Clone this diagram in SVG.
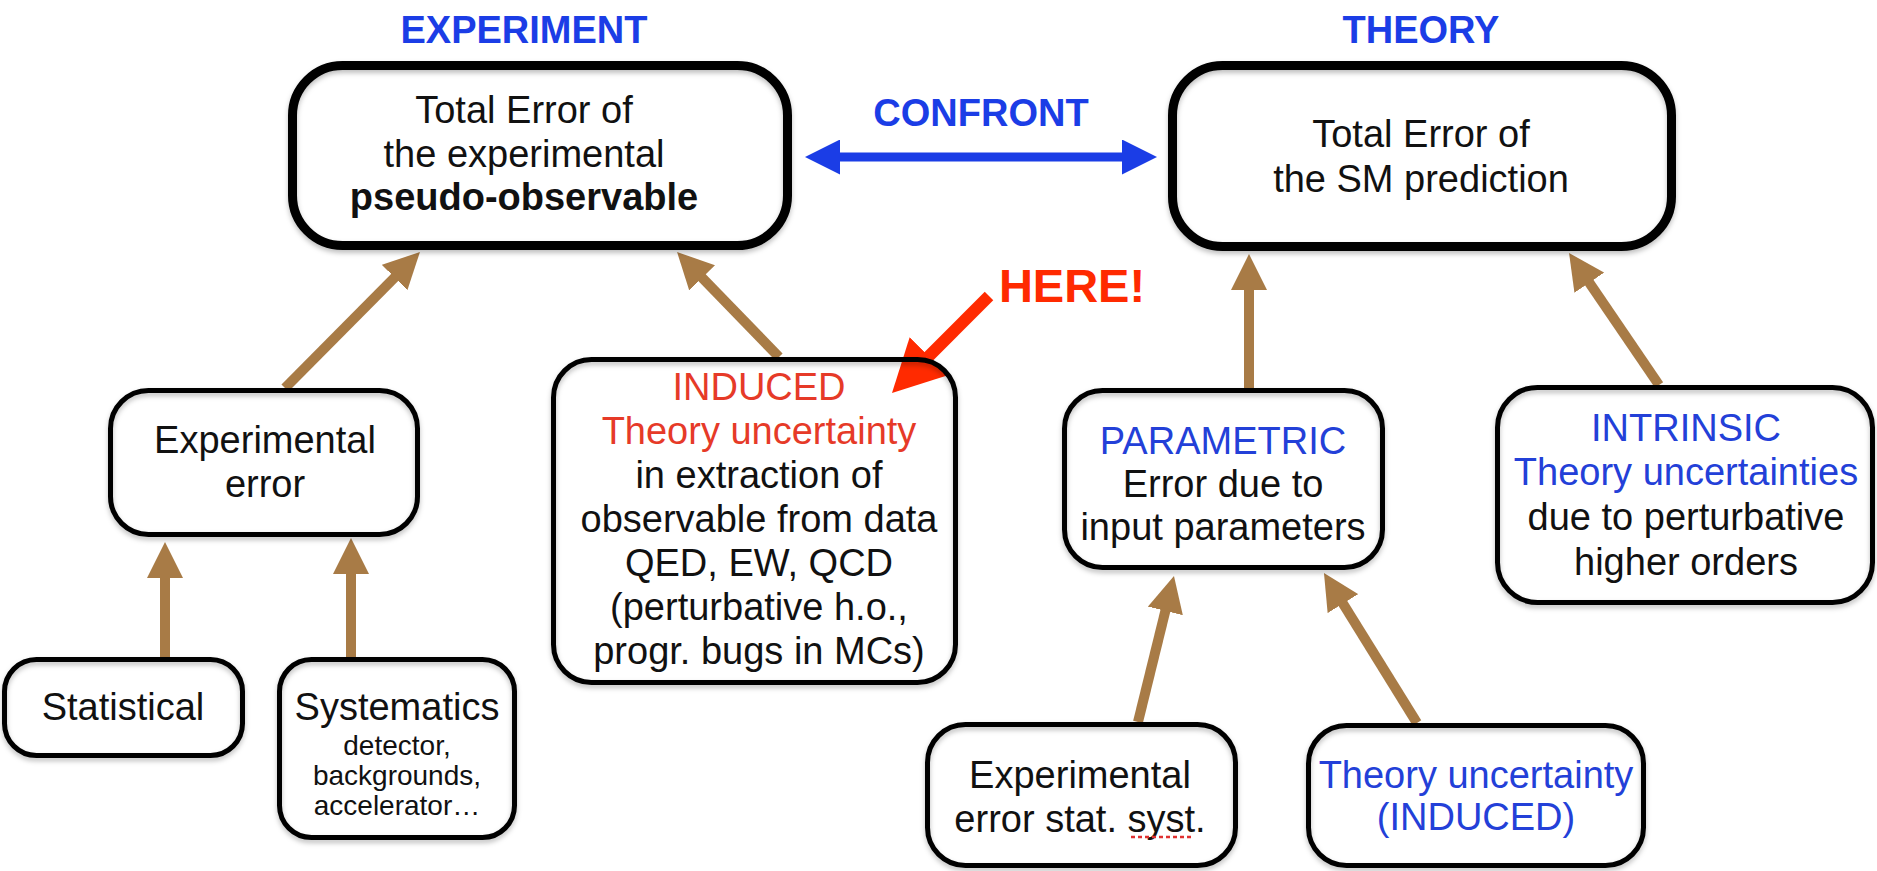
<svg xmlns="http://www.w3.org/2000/svg" width="1877" height="871" viewBox="0 0 1877 871">
<style>
text{font-family:"Liberation Sans",Arial,sans-serif;font-size:38px;fill:#111;text-anchor:middle}
.title{font-weight:bold;fill:#1b3de6}
.blue{fill:#2340d8}
.red{fill:#e63a28}
.b{font-weight:bold}
.sm{font-size:28px}
.big{fill:none;stroke:#000;stroke-width:9}
.box{fill:none;stroke:#000;stroke-width:5}
.arr{fill:none;stroke:#a87b46;stroke-width:10;marker-end:url(#bh)}
</style>
<defs>
<filter id="sh" x="-10%" y="-10%" width="120%" height="130%"><feDropShadow dx="0" dy="3" stdDeviation="2.5" flood-color="#000" flood-opacity="0.25"/></filter>
<marker id="bh" markerUnits="userSpaceOnUse" viewBox="0 0 36 36" markerWidth="36" markerHeight="36" refX="24" refY="18" orient="auto"><path d="M0,0L36,18L0,36z" fill="#a87b46"/></marker>
<marker id="uh" markerUnits="userSpaceOnUse" viewBox="0 0 35 35" markerWidth="35" markerHeight="35" refX="23" refY="17.5" orient="auto-start-reverse"><path d="M0,0L35,17.5L0,35z" fill="#1b3de6"/></marker>
<marker id="rh" markerUnits="userSpaceOnUse" viewBox="0 0 52 54" markerWidth="52" markerHeight="54" refX="37" refY="27" orient="auto"><path d="M0,0L52,27L0,54z" fill="#ff2a00"/></marker>
</defs>

<text class="title" x="524" y="43">EXPERIMENT</text>
<text class="title" x="1421" y="43">THEORY</text>
<text class="title" x="981" y="126">CONFRONT</text>
<text class="b" x="1072" y="302" style="font-size:47px;fill:#ff2a00">HERE!</text>

<g id="connectors">
<line x1="817" y1="157" x2="1145" y2="157" stroke="#1b3de6" stroke-width="9" marker-start="url(#uh)" marker-end="url(#uh)"/>
<line x1="989" y1="296" x2="902.6" y2="382.4" stroke="#ff2a00" stroke-width="12" marker-end="url(#rh)"/>
<line class="arr" x1="285" y1="388" x2="411.5" y2="260.5"/>
<line class="arr" x1="779" y1="357" x2="685.4" y2="260.6"/>
<line class="arr" x1="165" y1="657" x2="165" y2="554"/>
<line class="arr" x1="351" y1="657" x2="351" y2="550"/>
<line class="arr" x1="1249" y1="388" x2="1249" y2="266"/>
<line class="arr" x1="1659" y1="385" x2="1575.8" y2="262.9"/>
<line class="arr" x1="1138" y1="722" x2="1171.1" y2="587.6"/>
<line class="arr" x1="1417" y1="723" x2="1330.3" y2="583.2"/>
</g>

<g id="exp-total">
<rect class="big" x="292.5" y="65.5" width="495" height="180" rx="50" filter="url(#sh)"/>
<text x="524" y="123">Total Error of</text>
<text x="524" y="167">the experimental</text>
<text class="b" x="524" y="210">pseudo-observable</text>
</g>

<g id="sm-total">
<rect class="big" x="1172.5" y="65.5" width="499" height="181" rx="50" filter="url(#sh)"/>
<text x="1421" y="147">Total Error of</text>
<text x="1421" y="192">the SM prediction</text>
</g>

<g id="exp-error">
<rect class="box" x="110.5" y="390.5" width="307" height="144" rx="38" filter="url(#sh)"/>
<text x="265" y="453">Experimental</text>
<text x="265" y="497">error</text>
</g>

<g id="statistical">
<rect class="box" x="4.5" y="659.5" width="238" height="96" rx="32" filter="url(#sh)"/>
<text x="123" y="720">Statistical</text>
</g>

<g id="systematics">
<rect class="box" x="279.5" y="659.5" width="235" height="178" rx="32" filter="url(#sh)"/>
<text x="397" y="720">Systematics</text>
<text class="sm" x="397" y="755">detector,</text>
<text class="sm" x="397" y="785">backgrounds,</text>
<text class="sm" x="397" y="815">accelerator…</text>
</g>

<g id="induced">
<rect class="box" x="553.5" y="359.5" width="402" height="323" rx="38" filter="url(#sh)"/>
<text class="red" x="759" y="400">INDUCED</text>
<text class="red" x="759" y="444">Theory uncertainty</text>
<text x="759" y="488">in extraction of</text>
<text x="759" y="532">observable from data</text>
<text x="759" y="576">QED, EW, QCD</text>
<text x="759" y="620">(perturbative h.o.,</text>
<text x="759" y="664">progr. bugs in MCs)</text>
</g>

<g id="parametric">
<rect class="box" x="1064.5" y="390.5" width="318" height="177" rx="38" filter="url(#sh)"/>
<text class="blue" x="1223" y="454">PARAMETRIC</text>
<text x="1223" y="497">Error due to</text>
<text x="1223" y="540">input parameters</text>
</g>

<g id="intrinsic">
<rect class="box" x="1497.5" y="387.5" width="375" height="215" rx="40" filter="url(#sh)"/>
<text class="blue" x="1686" y="441">INTRINSIC</text>
<text class="blue" x="1686" y="485">Theory uncertainties</text>
<text x="1686" y="530">due to perturbative</text>
<text x="1686" y="575">higher orders</text>
</g>

<g id="exp-stat-syst">
<rect class="box" x="927.5" y="724.5" width="308" height="141" rx="38" filter="url(#sh)"/>
<text x="1080" y="788">Experimental</text>
<text x="1080" y="832">error stat. syst.</text>
<line x1="1131" y1="837" x2="1193" y2="837" stroke="#e03030" stroke-width="2.5" stroke-dasharray="4,3"/>
</g>

<g id="theory-induced">
<rect class="box" x="1308.5" y="725.5" width="335" height="140" rx="38" filter="url(#sh)"/>
<text class="blue" x="1476" y="788">Theory uncertainty</text>
<text class="blue" x="1476" y="830">(INDUCED)</text>
</g>
</svg>
